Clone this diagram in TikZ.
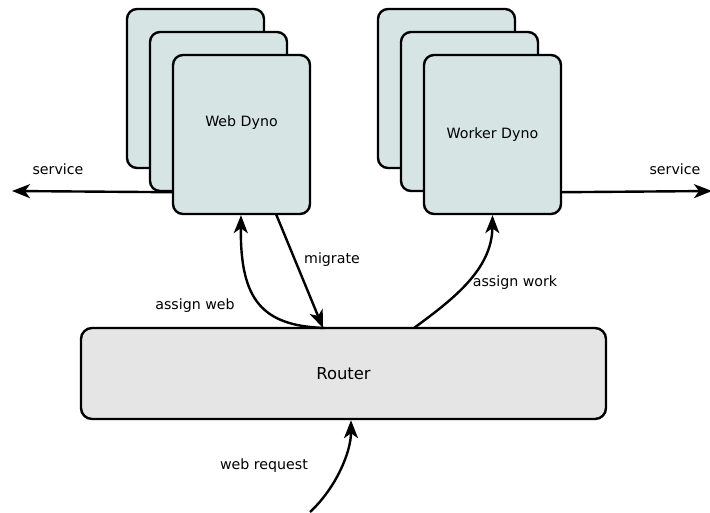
\documentclass[tikz,border=0pt]{standalone}
\usepackage{fontspec}
\setmainfont{DejaVu Sans}
\usetikzlibrary{arrows.meta,calc}
\definecolor{dynofill}{HTML}{D7E4E4}
\definecolor{routerfill}{HTML}{E5E5E5}
\tikzset{
  dynobox/.style={draw=black, line width=2.4pt, rounded corners=10pt, fill=dynofill,
    minimum width=137pt, minimum height=159pt, inner sep=0pt,
    font=\fontsize{14.2}{17}\selectfont},
  routerbox/.style={draw=black, line width=2.4pt, rounded corners=11pt, fill=routerfill,
    minimum width=525pt, minimum height=91pt, inner sep=0pt,
    font=\fontsize{16.4}{19}\selectfont},
  lbl/.style={font=\fontsize{14.2}{17}\selectfont, inner sep=0pt},
  conn/.style={line width=2.4pt, -{Stealth[length=18pt,width=14pt,inset=5pt]}},
}
\begin{document}
\begin{tikzpicture}[x=1pt,y=-1pt]
\useasboundingbox (0,0) rectangle (710,512);

% web dyno stack
\node[dynobox] (webback) at (195.5,88.5) {};
\node[dynobox] (webmid) at (218.5,111.5) {};
\node[dynobox] (webfront) at (241.5,134.5) {};
\node[lbl] (webtxt) at (241.5,123) {Web Dyno};

% worker dyno stack
\node[dynobox] (wrkback) at (446.5,88.5) {};
\node[dynobox] (wrkmid) at (469.5,111.5) {};
\node[dynobox] (wrkfront) at (492.5,134.5) {Worker Dyno};

% router
\node[routerbox] (router) at (343.5,373.5) {Router};

% service outputs
\coordinate (svcL) at (12,191);
\coordinate (svcR) at (712,191);
\draw[conn] (webfront.west |- webmid.south) -- (svcL);
\draw[conn] (wrkfront.east |- wrkmid.south) -- (svcR);
\node[lbl] at (58,169) {service};
\node[lbl] at (675,169) {service};

% connectors between router and dynos
\coordinate (awStart) at (325,328);
\coordinate (mgStart) at (276,214);
\coordinate (mgEnd) at (323,328);
\coordinate (wkStart) at (414,328);
\coordinate (reqStart) at (310,512);

\draw[conn] (awStart) .. controls (262,326) and (240,300) .. (webfront.south -| 241,0);
\node[lbl] at (195,306) {assign web};

\draw[conn] (mgStart) -- (mgEnd);
\node[lbl] at (332,260) {migrate};

\draw[conn] (wkStart) .. controls (452,300) and (492,270) .. (wrkfront.south);
\node[lbl] at (515,283) {assign work};

\draw[conn] (reqStart) .. controls (336,488) and (351,452) .. (router.south -| 351,0);
\node[lbl] at (264,466) {web request};
\end{tikzpicture}
\end{document}
